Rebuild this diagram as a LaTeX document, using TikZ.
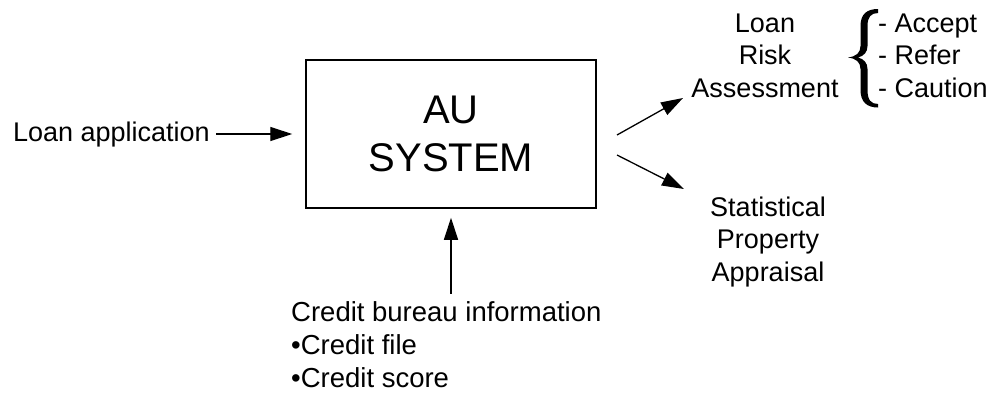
\documentclass[tikz,border=0pt]{standalone}
\usepackage{fontspec}
\setmainfont{Liberation Sans}
\usetikzlibrary{arrows.meta}
\begin{document}
\begin{tikzpicture}[x=1pt,y=-1pt,
  txt/.style={inner sep=0pt, font=\fontsize{27}{32.5}\selectfont},
  arr/.style={line width=1.3pt, -{Triangle[length=22pt,width=14pt]}},
  sysbox/.style={draw, line width=1.5pt, minimum width=290pt, minimum height=148pt, align=center, inner sep=0pt,
    font=\fontsize{40}{48}\selectfont}]
\useasboundingbox (0,0) rectangle (997,392);
\node[sysbox] (box) at (451,134) {AU\\SYSTEM};
\node[txt, anchor=base east] (app) at (210,141.5) {Loan application};
\node[txt, anchor=base, align=center] (lra) at (765,97) {Loan\\Risk\\Assessment};
\node[txt, anchor=base west, align=left] (opts) at (878,97) {- Accept\\- Refer\\- Caution};
\node[txt, anchor=base, align=center] (spa) at (768,281) {Statistical\\Property\\Appraisal};
\node[txt, anchor=base west, align=left, font=\fontsize{27.5}{33}\selectfont] (cb) at (291,387) {Credit bureau information\\•Credit file\\•Credit score};
\coordinate (r1s) at (617,135);
\coordinate (r1e) at (683,98);
\coordinate (r2s) at (617,155);
\coordinate (r2e) at (684,189);
\draw[arr] ([xshift=6pt]app.east |- box.west) -- ([xshift=-13pt]box.west);
\draw[arr] ([yshift=-85pt]box.south) -- ([yshift=-9pt]box.south);
\draw[arr] (r1s) -- (r1e);
\draw[arr] (r2s) -- (r2e);
% curly brace
\fill (878,9) .. controls (867,9) and (860.5,14) .. (860.5,26) -- (860.5,46)
  .. controls (860.5,53) and (856,56.5) .. (848,57.5)
  .. controls (856,58.5) and (860.5,62) .. (860.5,69) -- (860.5,90)
  .. controls (860.5,102) and (867,107.5) .. (878,107.5)
  -- (878,104) .. controls (871,104) and (867.5,100) .. (867.5,90) -- (867.5,69)
  .. controls (867.5,63) and (864,59) .. (858,57.5)
  .. controls (864,56) and (867.5,52) .. (867.5,46) -- (867.5,26)
  .. controls (867.5,17) and (871,13) .. (878,13) -- cycle;
\end{tikzpicture}
\end{document}
